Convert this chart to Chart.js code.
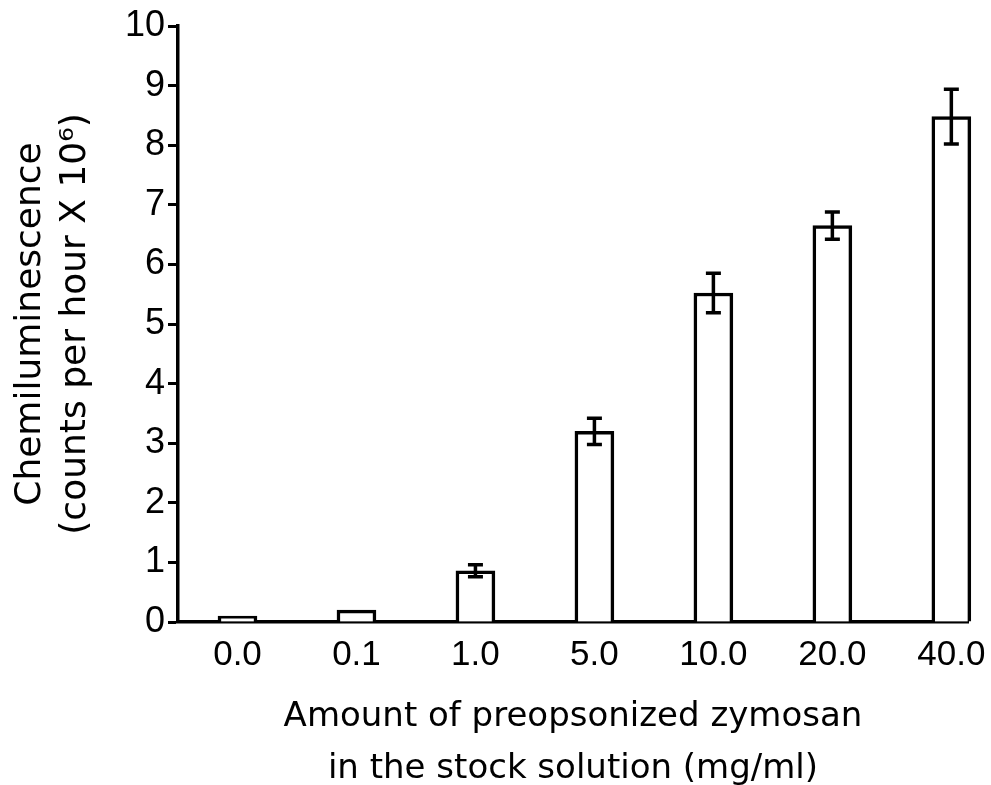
<!DOCTYPE html>
<html>
<head>
<meta charset="utf-8">
<script src="https://cdn.jsdelivr.net/npm/chart.js@4.4.0/dist/chart.umd.min.js"></script>
<style>
html,body{margin:0;padding:0;background:#fff;}
#wrap{width:991px;height:785px;}
</style>
</head>
<body>
<div id="wrap"><canvas id="c" width="991" height="785"></canvas></div>
<script>
const categories = ["0.0", "0.1", "1.0", "5.0", "10.0", "20.0", "40.0"];
const values = [0.1, 0.2, 0.86, 3.2, 5.52, 6.65, 8.48];
const errors = [0, 0, 0.1, 0.22, 0.33, 0.23, 0.46];
const yTicks = [0, 1, 2, 3, 4, 5, 6, 7, 8, 9, 10];

const FONT = "'Liberation Sans', Arial, Helvetica, sans-serif";
const TITLE_FONT = "'DejaVu Sans', 'Liberation Sans', sans-serif";

const errorBars = {
  id: 'errorBars',
  afterDatasetsDraw(chart) {
    const ctx = chart.ctx;
    const meta = chart.getDatasetMeta(0);
    const ys = chart.scales.y;
    ctx.save();
    ctx.strokeStyle = '#000';
    ctx.lineWidth = 3.5;
    meta.data.forEach((bar, i) => {
      const e = errors[i];
      if (!e) return;
      const x = bar.x;
      const top = ys.getPixelForValue(values[i] + e);
      const bot = ys.getPixelForValue(values[i] - e);
      const cap = 7.5;
      ctx.beginPath();
      ctx.moveTo(x, top); ctx.lineTo(x, bot);
      ctx.moveTo(x - cap, top); ctx.lineTo(x + cap, top);
      ctx.moveTo(x - cap, bot); ctx.lineTo(x + cap, bot);
      ctx.stroke();
    });
    ctx.restore();
  }
};

new Chart(document.getElementById('c'), {
  type: 'bar',
  data: {
    datasets: [{
      data: values.map((v, i) => ({ x: i, y: v })),
      backgroundColor: '#fff',
      borderColor: '#000',
      borderWidth: 3.5,
      borderSkipped: 'bottom',
      barThickness: 39,
      clip: false
    }]
  },
  options: {
    responsive: false,
    animation: false,
    layout: { padding: { top: 26, right: 23, left: 0, bottom: 0 } },
    plugins: { legend: { display: false }, tooltip: { enabled: false } },
    scales: {
      x: {
        type: 'linear',
        offset: false,
        min: -0.5,
        max: 6.14,
        afterBuildTicks(scale) {
          scale.ticks = categories.map((c, i) => ({ value: i }));
        },
        afterFit(scale) { scale.height = 163; },
        ticks: {
          callback: (v) => categories[v],
          color: '#000',
          font: { family: FONT, size: 35 },
          padding: 4,
          maxRotation: 0,
          autoSkip: false
        },
        grid: { display: false, offset: false },
        border: { display: true, color: '#000', width: 3.5 },
        title: {
          display: true,
          text: ['Amount of preopsonized zymosan', 'in the stock solution (mg/ml)'],
          color: '#000',
          font: { family: TITLE_FONT, size: 34, lineHeight: 1.53 },
          padding: { top: 0, bottom: -10 }
        }
      },
      y: {
        min: 0,
        max: 10,
        afterBuildTicks(scale) {
          scale.ticks = yTicks.map(v => ({ value: v }));
        },
        afterFit(scale) { scale.width = 178; },
        ticks: {
          color: '#000',
          font: { family: FONT, size: 36 },
          padding: 3
        },
        grid: {
          display: true,
          drawOnChartArea: false,
          drawTicks: true,
          tickLength: 10,
          tickWidth: 3,
          tickColor: '#000'
        },
        border: { display: true, color: '#000', width: 3.5 },
        title: {
          display: true,
          text: ['Chemiluminescence', '(counts per hour X 10\u2076)'],
          color: '#000',
          font: { family: TITLE_FONT, size: 36, lineHeight: 1.25 },
          padding: { top: 8, bottom: 0 }
        }
      }
    }
  },
  plugins: [errorBars]
});
</script>
</body>
</html>
